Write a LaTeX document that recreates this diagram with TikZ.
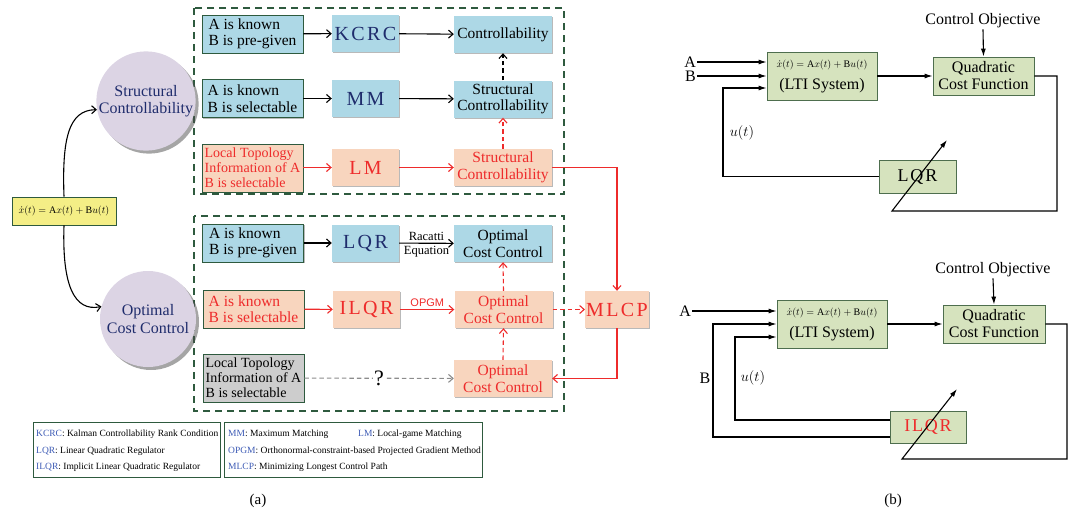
\documentclass[tikz,border=0pt]{standalone}
\usepackage{fontspec}
\setmainfont{Liberation Serif}
\newfontfamily\sansf{Liberation Sans}
\usetikzlibrary{arrows.meta,shadows}
\definecolor{lblue}{HTML}{ADD8E6}
\definecolor{peach}{HTML}{F8D5BE}
\definecolor{greyb}{HTML}{CDCDCD}
\definecolor{ybox}{HTML}{F4EE86}
\definecolor{gbox}{HTML}{D6E3BE}
\definecolor{gedge}{HTML}{4E6E4E}
\definecolor{lilac}{HTML}{DCD4E4}
\definecolor{dgreen}{HTML}{2E5A3E}
\definecolor{navy}{HTML}{1F2C6C}
\definecolor{myred}{HTML}{EE2B2B}
\definecolor{abbr}{HTML}{3D5BB5}
\newcommand\myfs[2]{\fontsize{#1}{#2}\selectfont}
\begin{document}
\begin{tikzpicture}[x=1pt,y=-1pt,
  shad/.style={drop shadow={shadow xshift=1.3pt,shadow yshift=-1.3pt,fill=black!55}},
  lbox/.style={shad,draw=dgreen,line width=0.8pt,align=left,inner xsep=2pt,inner ysep=1pt,minimum width=101pt,minimum height=38pt,font=\myfs{15.5}{16.5}},
  lboxs/.style={lbox,minimum height=48pt,font=\myfs{14}{14.8}},
  midbox/.style={shad,minimum width=67pt,minimum height=37pt,inner sep=1pt,font=\myfs{20}{22}\addfontfeatures{LetterSpace=12}},
  rbox/.style={shad,minimum width=98pt,minimum height=37pt,inner sep=1pt,align=center,font=\myfs{15.5}{16.5}},
  circ/.style={circle,fill=lilac,minimum size=96pt,inner sep=0pt,align=center,text=navy,font=\myfs{16}{17.5},
     drop shadow={shadow xshift=3pt,shadow yshift=-3pt,fill=black!70}},
  frame/.style={draw=dgreen,line width=1.2pt,dash pattern=on 7pt off 5pt},
  ar/.style={-{Straight Barb[length=4.5pt,width=8pt]},line width=1.1pt},
  dsh/.style={dash pattern=on 4.5pt off 3pt},
  br/.style={-{Latex[length=8pt,width=5pt]},line width=1.1pt},
  gb/.style={draw=gedge,line width=0.8pt,fill=gbox,align=center,font=\myfs{16}{17},
     drop shadow={shadow xshift=1pt,shadow yshift=-1pt,fill=black!40}},
  lab/.style={font=\myfs{16}{17},inner sep=1pt},
  leg/.style={anchor=west,inner sep=0pt,font=\myfs{9.5}{11}}
]
\useasboundingbox (0,0) rectangle (1074,515);

% ---------- (a) ----------
\draw[frame] (194,8) rectangle (564,194);
\draw[frame] (194,216) rectangle (564,411);

\node[circ] (SC) at (146,101) {Structural\\Controllability};
\node[circ] (OC) at (148,319) {Optimal\\Cost Control};
\node[draw=dgreen,line width=0.8pt,fill=ybox,minimum width=104pt,minimum height=28pt,inner sep=1pt,font=\myfs{10}{12}]
  (eq) at (64,211) {$\dot{x}(t)=\mathrm{A}x(t)+\mathrm{B}u(t)$};
\draw[ar] (eq.north) .. controls (62,140) and (68,110) .. (SC.190);
\draw[ar] (eq.south) .. controls (62,285) and (74,312) .. (OC.165);

% row 1
\node[lbox,fill=lblue] (L1) at (252.5,34) {A is known\\B is pre-given};
\node[midbox,fill=lblue,text=navy] (KCRC) at (365.5,33.5) {KCRC};
\node[rbox,fill=lblue] (C1) at (503,34.5) {Controllability};
% row 2
\node[lbox,fill=lblue] (L2) at (252.5,98.5) {A is known\\B is selectable};
\node[midbox,fill=lblue,text=navy] (MM) at (365.5,98.5) {MM};
\node[rbox,fill=lblue] (SC2) at (503,99) {Structural\\Controllability};
% row 3
\node[lboxs,fill=peach,text=myred] (L3) at (252.5,168) {Local Topology\\Information of A\\B is selectable};
\node[midbox,fill=peach,text=myred] (LM) at (365.5,167.5) {LM};
\node[rbox,fill=peach,text=myred] (SC3) at (503,167.5) {Structural\\Controllability};
% row 4
\node[lbox,fill=lblue] (L4) at (253,243) {A is known\\B is pre-given};
\node[midbox,fill=lblue,text=navy] (LQR) at (365.5,243) {LQR};
\node[rbox,fill=lblue] (OC4) at (503,243.5) {Optimal\\Cost Control};
% row 5
\node[lbox,fill=peach,text=myred] (L5) at (253.5,309) {A is known\\B is selectable};
\node[midbox,fill=peach,text=myred] (ILQR) at (366.5,309.5) {ILQR};
\node[rbox,fill=peach,text=myred] (OC5) at (503.5,309.5) {Optimal\\Cost Control};
\node[midbox,minimum width=62pt,fill=peach,text=myred] (MLCP) at (617,309.5) {MLCP};
% row 6
\node[lboxs,fill=greyb] (L6) at (253.5,378) {Local Topology\\Information of A\\B is selectable};
\node[rbox,fill=peach,text=myred] (OC6) at (503,378.5) {Optimal\\Cost Control};

% connectors
\draw[ar] (L1) -- (KCRC);
\draw[ar] (KCRC) -- (C1);
\draw[ar] (L2) -- (MM);
\draw[ar] (MM) -- (SC2);
\draw[ar,myred] (L3.east |- LM) -- (LM);
\draw[ar,myred] (LM) -- (SC3);
\draw[ar,dsh] (SC2.north) -- (C1.south);
\draw[ar,dsh,myred] (SC3.north) -- (SC2.south);
\draw[ar] (L4) -- (LQR);
\draw[ar] (LQR) -- node[above,inner sep=2pt,font=\myfs{12.5}{13}]{Racatti} node[below,inner sep=2pt,font=\myfs{12.5}{13}]{Equation} (OC4);
\draw[ar,myred] (L5) -- (ILQR);
\draw[ar,myred] (ILQR) -- node[above,inner sep=2.5pt,font=\sansf\myfs{11}{12}]{OPGM} (OC5);
\draw[ar,dsh,myred] (OC5) -- (MLCP);
\draw[ar,dsh,myred] (OC6.north) -- (OC5.south);
\draw[ar,dsh,myred] (OC5.north) -- (OC4.south);
\draw[ar,dsh,black!45] (L6) -- node[fill=white,inner sep=1pt,text=black,font=\myfs{22}{22}]{?} (OC6);
\draw[ar,myred] (SC3.east) -| (MLCP.north);
\draw[ar,myred] (MLCP.south) |- (OC6.east);

% legend
\node[draw=dgreen,line width=1pt,minimum width=187pt,minimum height=55pt] (legL) at (126.5,449.5) {};
\node[draw=dgreen,line width=1pt,minimum width=258pt,minimum height=55pt] (legR) at (353,449.5) {};
\node[leg] (k1) at (36,434) {\textcolor{abbr}{KCRC}: Kalman Controllability Rank Condition};
\node[leg] (k2) at (36,451) {\textcolor{abbr}{LQR}: Linear Quadratic Regulator};
\node[leg] (k3) at (36,467) {\textcolor{abbr}{ILQR}: Implicit Linear Quadratic Regulator};
\node[leg] (k4) at (228,434) {\textcolor{abbr}{MM}: Maximum Matching};
\node[leg] (k5) at (358,434) {\textcolor{abbr}{LM}: Local-game Matching};
\node[leg] (k6) at (228,451) {\textcolor{abbr}{OPGM}: Orthonormal-constraint-based Projected Gradient Method};
\node[leg] (k7) at (228,467) {\textcolor{abbr}{MLCP}: Minimizing Longest Control Path};
\node[font=\myfs{15}{16}] (capa) at (258,501) {(a)};

% ---------- (b) top ----------
\node[gb,minimum width=110pt,minimum height=48pt,inner sep=1pt] (LTI) at (822,76)
  {\myfs{10}{12}$\dot{x}(t)=\mathrm{A}x(t)+\mathrm{B}u(t)$\\[5pt]\myfs{16}{17}(LTI System)};
\node[gb,minimum width=101pt,minimum height=38pt,inner sep=1pt] (QCF) at (983.5,76) {Quadratic\\Cost Function};
\node[gb,minimum width=77pt,minimum height=33pt,inner sep=1pt,font=\myfs{18}{19}\addfontfeatures{LetterSpace=10}] (LQRb) at (917.5,176.5) {LQR};
\node[lab] (CO) at (983,21) {Control Objective};
\node[lab,anchor=east] (A1) at (697,62) {A};
\node[lab,anchor=east] (B1) at (697,76) {B};
\node[inner sep=0pt,font=\myfs{14}{15}] (u1) at (742,133) {$u(t)$};
\coordinate (f1) at (723,88);
\coordinate (q1) at (1057,76);
\coordinate (q2) at (1057,211);
\coordinate (q3) at (892,211);
\coordinate (q4) at (947,140);
\draw[br] (A1.east) -- (A1.east -| LTI.west);
\draw[br] (B1.east) -- (B1.east -| LTI.west);
\draw[br] (LQRb.west) -| (f1) -- (f1 -| LTI.west);
\draw[br] (LTI.east) -- (QCF.west);
\draw[br] (CO.south) -- (QCF.north);
\draw[br] (QCF.east) -- (q1) -- (q2) -- (q3) -- (q4);

% ---------- (b) bottom ----------
\node[gb,minimum width=110pt,minimum height=48pt,inner sep=1pt] (LTI2) at (832,324)
  {\myfs{10}{12}$\dot{x}(t)=\mathrm{A}x(t)+\mathrm{B}u(t)$\\[5pt]\myfs{16}{17}(LTI System)};
\node[gb,minimum width=102pt,minimum height=38pt,inner sep=1pt] (QCF2) at (994,324) {Quadratic\\Cost Function};
\node[gb,minimum width=76pt,minimum height=32pt,inner sep=1pt,text=myred,font=\myfs{18}{19}\addfontfeatures{LetterSpace=10}] (ILQRb) at (928,427) {ILQR};
\node[lab] (CO2) at (993,270) {Control Objective};
\node[lab,anchor=east] (A2) at (692,311) {A};
\node[lab] (B2) at (705,378) {B};
\node[inner sep=0pt,font=\myfs{14}{15}] (u2) at (753,378) {$u(t)$};
\coordinate (g1) at (713,437);
\coordinate (g1t) at (713,324);
\coordinate (h1) at (735,420);
\coordinate (h1t) at (735,337);
\coordinate (p1) at (1067,324);
\coordinate (p2) at (1067,459);
\coordinate (p3) at (902,459);
\coordinate (p4) at (957,389);
\draw[br] (A2.east) -- (A2.east -| LTI2.west);
\draw[br] (ILQRb.west |- g1) -- (g1) -- (g1t) -- (g1t -| LTI2.west);
\draw[br] (ILQRb.west |- h1) -- (h1) -- (h1t) -- (h1t -| LTI2.west);
\draw[br] (LTI2.east) -- (QCF2.west);
\draw[br] (CO2.south) -- (QCF2.north);
\draw[br] (QCF2.east) -- (p1) -- (p2) -- (p3) -- (p4);
\node[font=\myfs{15}{16}] (capb) at (893,501) {(b)};
\end{tikzpicture}
\end{document}
